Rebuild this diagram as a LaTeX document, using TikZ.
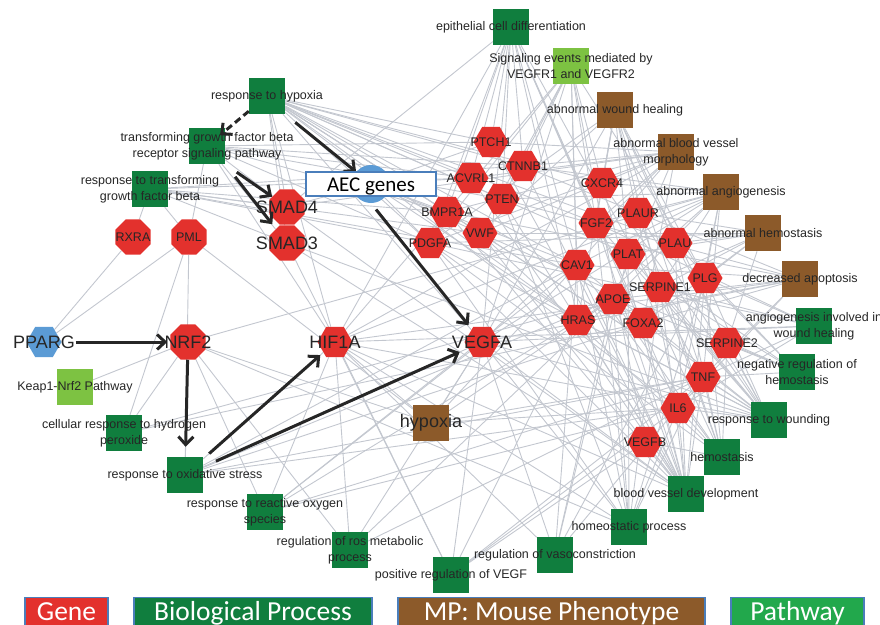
\documentclass[tikz,border=0pt]{standalone}
\usepackage{fontspec}
\setmainfont{Liberation Sans}
\newfontfamily\legfont{Carlito}
\usetikzlibrary{arrows.meta,shapes.geometric}
\definecolor{GeneRed}{HTML}{E3312D}
\definecolor{BPGreen}{HTML}{107E3E}
\definecolor{MPBrown}{HTML}{8C5A2A}
\definecolor{PWGreen}{HTML}{7DC242}
\definecolor{LegGreen}{HTML}{22A84C}
\definecolor{NodeBlue}{HTML}{5B9BD5}
\definecolor{EdgeGray}{HTML}{C3C7CF}
\definecolor{Frame}{HTML}{4A7EBB}
\definecolor{Txt}{HTML}{262626}
\pgfdeclarelayer{edges}
\pgfdeclarelayer{shapes}
\pgfsetlayers{edges,shapes,main}
\tikzset{
 gene/.style={regular polygon,regular polygon sides=6,minimum size=35pt,inner sep=0pt,fill=GeneRed},
 octo/.style={gene,regular polygon sides=8,minimum size=38pt},
 term/.style={rectangle,minimum size=36pt,inner sep=0pt,fill=#1},
 txt/.style={align=center,font=\fontsize{12.5}{16}\selectfont,text=Txt,inner sep=0pt},
 edge/.style={draw=EdgeGray,line width=.9pt},
 arr/.style={-{Straight Barb[length=8pt,width=15pt]},line width=3pt,draw=black!85},
 aecbox/.style={rectangle,draw=Frame,fill=white,line width=1.2pt,minimum width=130pt,minimum height=24pt,text height=14pt,text depth=0pt,font=\legfont\fontsize{21}{21}\selectfont},
 legend/.style={rectangle,draw=Frame,line width=1.5pt,fill=#1,minimum height=32pt,text height=19pt,text depth=6pt,text=white,font=\legfont\fontsize{27.5}{30}\selectfont}
}

\begin{document}
\begin{tikzpicture}[x=1pt,y=-1pt]
\useasboundingbox (0,0) rectangle (880,624);
% terms: process, phenotype, pathway
\foreach \id/\x/\y/\col/\name in {epith/511/27/BPGreen/{epithelial cell differentiation},
 sigvegfr/571/66/PWGreen/{Signaling events mediated by\\VEGFR1 and VEGFR2},
 woundheal/615/110/MPBrown/{abnormal wound healing},
 vesselmorph/676/152/MPBrown/{abnormal blood vessel\\morphology},
 angio/721/192/MPBrown/{abnormal angiogenesis},
 hemoab/763/233/MPBrown/{abnormal hemostasis},
 apopt/800/279/MPBrown/{decreased apoptosis},
 angiowound/814/326/BPGreen/{angiogenesis involved in\\wound healing},
 neghemo/797/372/BPGreen/{negative regulation of\\hemostasis},
 wounding/769/420/BPGreen/{response to wounding},
 hemostasis/722/457/BPGreen/{hemostasis},
 bvdev/686/494/BPGreen/{blood vessel development},
 homeo/629/527/BPGreen/{homeostatic process},
 vasocon/555/555/BPGreen/{regulation of vasoconstriction},
 posvegf/451/575/BPGreen/{positive regulation of VEGF},
 ros/350/550/BPGreen/{regulation of ros metabolic\\process},
 reactox/265/512/BPGreen/{response to reactive oxygen\\species},
 oxstress/185/475/BPGreen/{response to oxidative stress},
 peroxide/124/433/BPGreen/{cellular response to hydrogen\\peroxide},
 keap/75/387/PWGreen/{Keap1-Nrf2 Pathway},
 hypoxbp/267/96/BPGreen/{response to hypoxia},
 tgfbr/207/146/BPGreen/{transforming growth factor beta\\receptor signaling pathway},
 tgfb/150/189/BPGreen/{response to transforming\\growth factor beta}} {
 \begin{pgfonlayer}{shapes}\node[term=\col] (\id) at (\x,\y) {};\end{pgfonlayer}
 \node[txt] (\id-t) at (\id) {\name};
}
\begin{pgfonlayer}{shapes}\node[term=MPBrown] (hypoxmp) at (431,423) {};\end{pgfonlayer}
\node[txt,font=\fontsize{18}{20}\selectfont] (hypoxmp-t) at (hypoxmp) {hypoxia};
% genes
\foreach \id/\x/\y/\f/\name in {ptch/491/142/12.5/PTCH1,ctnnb/523/166/12.5/CTNNB1,acvrl/471/178/12.5/ACVRL1,
 pten/502/199/12.5/PTEN,bmpr/447/212/12.5/BMPR1A,vwf/480/233/12.5/VWF,pdgfa/430/243/12.5/PDGFA,
 cxcr/602/183/12.5/CXCR4,fgf/596/223/12.5/FGF2,plaur/638/213/12.5/PLAUR,plau/675/243/12.5/PLAU,
 plat/628/254/12.5/PLAT,cav/577/265/12.5/CAV1,serpa/660/287/12.5/SERPINE1,plg/705/278/12.5/PLG,
 apoe/613/299/12.5/APOE,hras/578/320/12.5/HRAS,foxa/643/323/12.5/FOXA2,serpb/727/343/12.5/SERPINE2,
 tnf/703/377/12.5/TNF,il6/678/408/12.5/IL6,vegfb/645/442/12.5/VEGFB,
 hif/335/342/18/HIF1A,vegfa/482/342/18/VEGFA} {
 \begin{pgfonlayer}{shapes}\node[gene] (\id) at (\x,\y) {};\end{pgfonlayer}
 \node[txt,font=\fontsize{\f}{\f}\selectfont] (\id-t) at (\id) {\name};
}
\foreach \id/\x/\y/\f/\name in {rxra/133/237/12.5/RXRA,pml/189/237/12.5/PML,
 smadf/287/207/18/SMAD4,smadt/287/243/18/SMAD3,nrf/188/342/18/NRF2} {
 \begin{pgfonlayer}{shapes}\node[octo] (\id) at (\x,\y) {};\end{pgfonlayer}
 \node[txt,font=\fontsize{\f}{\f}\selectfont] (\id-t) at (\id) {\name};
}
\begin{pgfonlayer}{shapes}
\node[gene,fill=NodeBlue] (pparg) at (44,342) {};
\node[circle,fill=NodeBlue,minimum size=38pt,inner sep=0pt] (aecdot) at (371,184) {};
\end{pgfonlayer}
\node[txt,font=\fontsize{18}{18}\selectfont] (pparg-t) at (pparg) {PPARG};
% grey links
\begin{pgfonlayer}{edges}
\foreach \tm/\gs in {epith/{smadf,ptch,ctnnb,acvrl,bmpr,pten,foxa,vegfa,hras,fgf,cav,pdgfa,il6,tnf,hif},
 sigvegfr/{vegfa,vegfb,cav,hras,plg,ctnnb,pdgfa,vwf,fgf,cxcr,hif,pten},
 woundheal/{plau,plat,plg,serpa,serpb,vwf,tnf,il6,fgf,vegfa,cxcr,pdgfa,hras},
 vesselmorph/{vegfa,acvrl,bmpr,ctnnb,ptch,cav,apoe,fgf,hif,pdgfa,smadf,vwf,foxa},
 angio/{vegfa,hif,fgf,cav,pten,ctnnb,il6,tnf,serpa,plg,cxcr,apoe,hras,nrf},
 hemoab/{vwf,plat,plau,plg,serpa,serpb,apoe,plaur,foxa,pdgfa},
 apopt/{pten,ctnnb,hif,il6,tnf,cav,hras,apoe,vegfa,foxa,bmpr},
 angiowound/{vegfa,fgf,pdgfa,plg,serpa,tnf,il6,hif},
 neghemo/{plat,plau,plg,serpa,serpb,vwf,apoe,tnf},
 wounding/{vegfa,vwf,plat,plau,plaur,plg,serpa,serpb,tnf,il6,fgf,cxcr,hif,pdgfa,cav,apoe,hras,smadt},
 hemostasis/{vwf,plat,plau,plaur,plg,serpa,serpb,tnf,vegfb,apoe,pdgfa,cav,il6},
 bvdev/{vegfa,vegfb,hif,fgf,cav,ctnnb,acvrl,bmpr,pten,ptch,foxa,hras,tnf,il6,cxcr,plau,serpa,smadf,smadt,pdgfa,vwf,apoe,plg},
 homeo/{vegfa,hif,il6,tnf,apoe,cav,plg,serpa,nrf,pdgfa,fgf,plat,pten},
 vasocon/{vegfa,hif,tnf,cav,apoe,plg,plat},
 posvegf/{hif,vegfa,il6,tnf,hras,vegfb,smadt},
 ros/{nrf,hif,vegfa,tnf,apoe},
 reactox/{nrf,hif,apoe,il6,tnf,vegfa,cav},
 oxstress/{nrf,hif,apoe,pml,vegfa,cav,tnf,il6,foxa},
 peroxide/{nrf,apoe,foxa,pml},
 keap/{nrf},
 hypoxbp/{vegfa,hif,smadf,smadt,ptch,ctnnb,cav,pdgfa,plat,plau,fgf,il6,tnf,hras,apoe,vwf,acvrl,bmpr,cxcr,pten},
 tgfbr/{smadf,smadt,acvrl,bmpr,pten,ctnnb,pml,ptch,pdgfa,hif},
 tgfb/{smadf,smadt,acvrl,bmpr,pdgfa,ctnnb,pml,rxra,vwf,cav},
 hypoxmp/{vegfa,hif,pml,cav,apoe,tnf,nrf,il6},
 pparg/{rxra,pml},
 aecdot/{ptch,acvrl,bmpr,pdgfa,vwf,cav,hras,smadf}}
 \foreach \g in \gs \draw[edge] (\tm) -- (\g);
\end{pgfonlayer}
% black arrows
\draw[arr,dash pattern=on 7pt off 4pt,shorten >=17pt] (hypoxbp) -- (tgfbr.center);
\draw[arr,shorten <=13pt] (hypoxbp.south east) -- (aecdot);
\draw[arr,shorten <=14pt] (tgfbr.south east) -- (smadf);
\draw[arr,shorten <=16pt,shorten >=6pt] (tgfbr.south east) -- (smadt);
\draw[arr,shorten <=8pt,shorten >=5pt] (aecdot.south) -- (vegfa);
\draw[arr,shorten <=14pt,shorten >=3pt] (pparg) -- (nrf);
\draw[arr,shorten >=10pt] (nrf) -- (oxstress);
\draw[arr,shorten <=8pt,shorten >=4pt] (oxstress) -- (hif);
\draw[arr,shorten <=14pt,shorten >=9pt] (oxstress) -- (vegfa);
\node[aecbox] (aec) at (371,184) {AEC genes};
% legend
\node[legend=GeneRed,minimum width=83pt] (leg-gene) at (66.5,613.5) {Gene};
\node[legend=BPGreen,minimum width=238pt] (leg-bp) at (253,613.5) {Biological Process};
\node[legend=MPBrown,minimum width=307pt] (leg-mp) at (551.5,613.5) {MP: Mouse Phenotype};
\node[legend=LegGreen,minimum width=133pt] (leg-pw) at (797.5,613.5) {Pathway};
\end{tikzpicture}
\end{document}
